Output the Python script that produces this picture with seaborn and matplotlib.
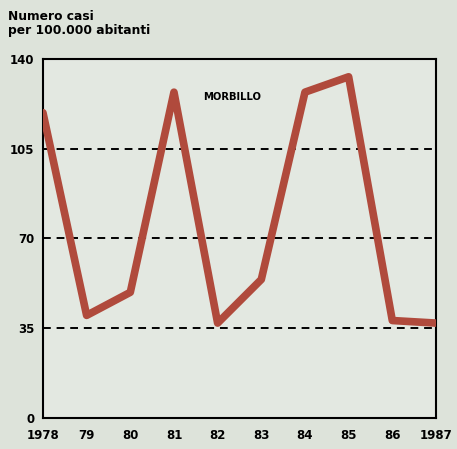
import matplotlib
matplotlib.use("Agg")
import matplotlib.pyplot as plt
import seaborn as sns
import pandas as pd

# casi di morbillo per 100.000 abitanti
anni = [1978, 1979, 1980, 1981, 1982, 1983, 1984, 1985, 1986, 1987]
casi = [119, 40, 49, 127, 37, 54, 127, 133, 38, 37]
etichette_x = ["1978", "79", "80", "81", "82", "83", "84", "85", "86", "1987"]
tick_y = [0, 35, 70, 105, 140]

df = pd.DataFrame({"ANNO": anni, "CASI": casi})

sns.set_style("white")
plt.rcParams["font.family"] = ["DejaVu Sans"]
plt.rcParams["text.color"] = "black"
plt.rcParams["xtick.color"] = "black"
plt.rcParams["ytick.color"] = "black"

fond = "#dde3da"
fig = plt.figure(figsize=(4.57, 4.49), dpi=100, facecolor=fond)
ax = fig.add_axes([0.094, 0.069, 0.86, 0.80])
ax.set_facecolor("#e3e8e1")

for v in tick_y[1:4]:
    ax.axhline(v, color="black", linestyle=(0, (4, 3)), linewidth=1.4, zorder=1)

sns.lineplot(data=df, x="ANNO", y="CASI", color="#b04a3c", linewidth=5.5,
             ax=ax, zorder=3)

ax.set_xlim(1978, 1987)
ax.set_ylim(0, 140)
ax.set_xticks(anni)
ax.set_xticklabels(etichette_x, fontsize=8.5, fontweight="bold")
ax.set_yticks(tick_y)
ax.set_yticklabels([str(t) for t in tick_y], fontsize=8.5, fontweight="bold")
ax.tick_params(axis="x", direction="in", length=6, width=1.5, pad=8)
ax.tick_params(axis="y", direction="out", length=5, width=1.5, pad=1)
ax.set_xlabel("")
ax.set_ylabel("")
for s in ax.spines.values():
    s.set_color("black")
    s.set_linewidth(1.5)

ax.text(1982.33, 125, "MORBILLO", fontsize=7.2, fontweight="bold", ha="center", va="center")
fig.text(0.018, 0.978, "Numero casi\nper 100.000 abitanti", fontsize=8.8,
         fontweight="bold", ha="left", va="top", linespacing=1.1)

fig.savefig("out.png", dpi=100, facecolor=fond)
